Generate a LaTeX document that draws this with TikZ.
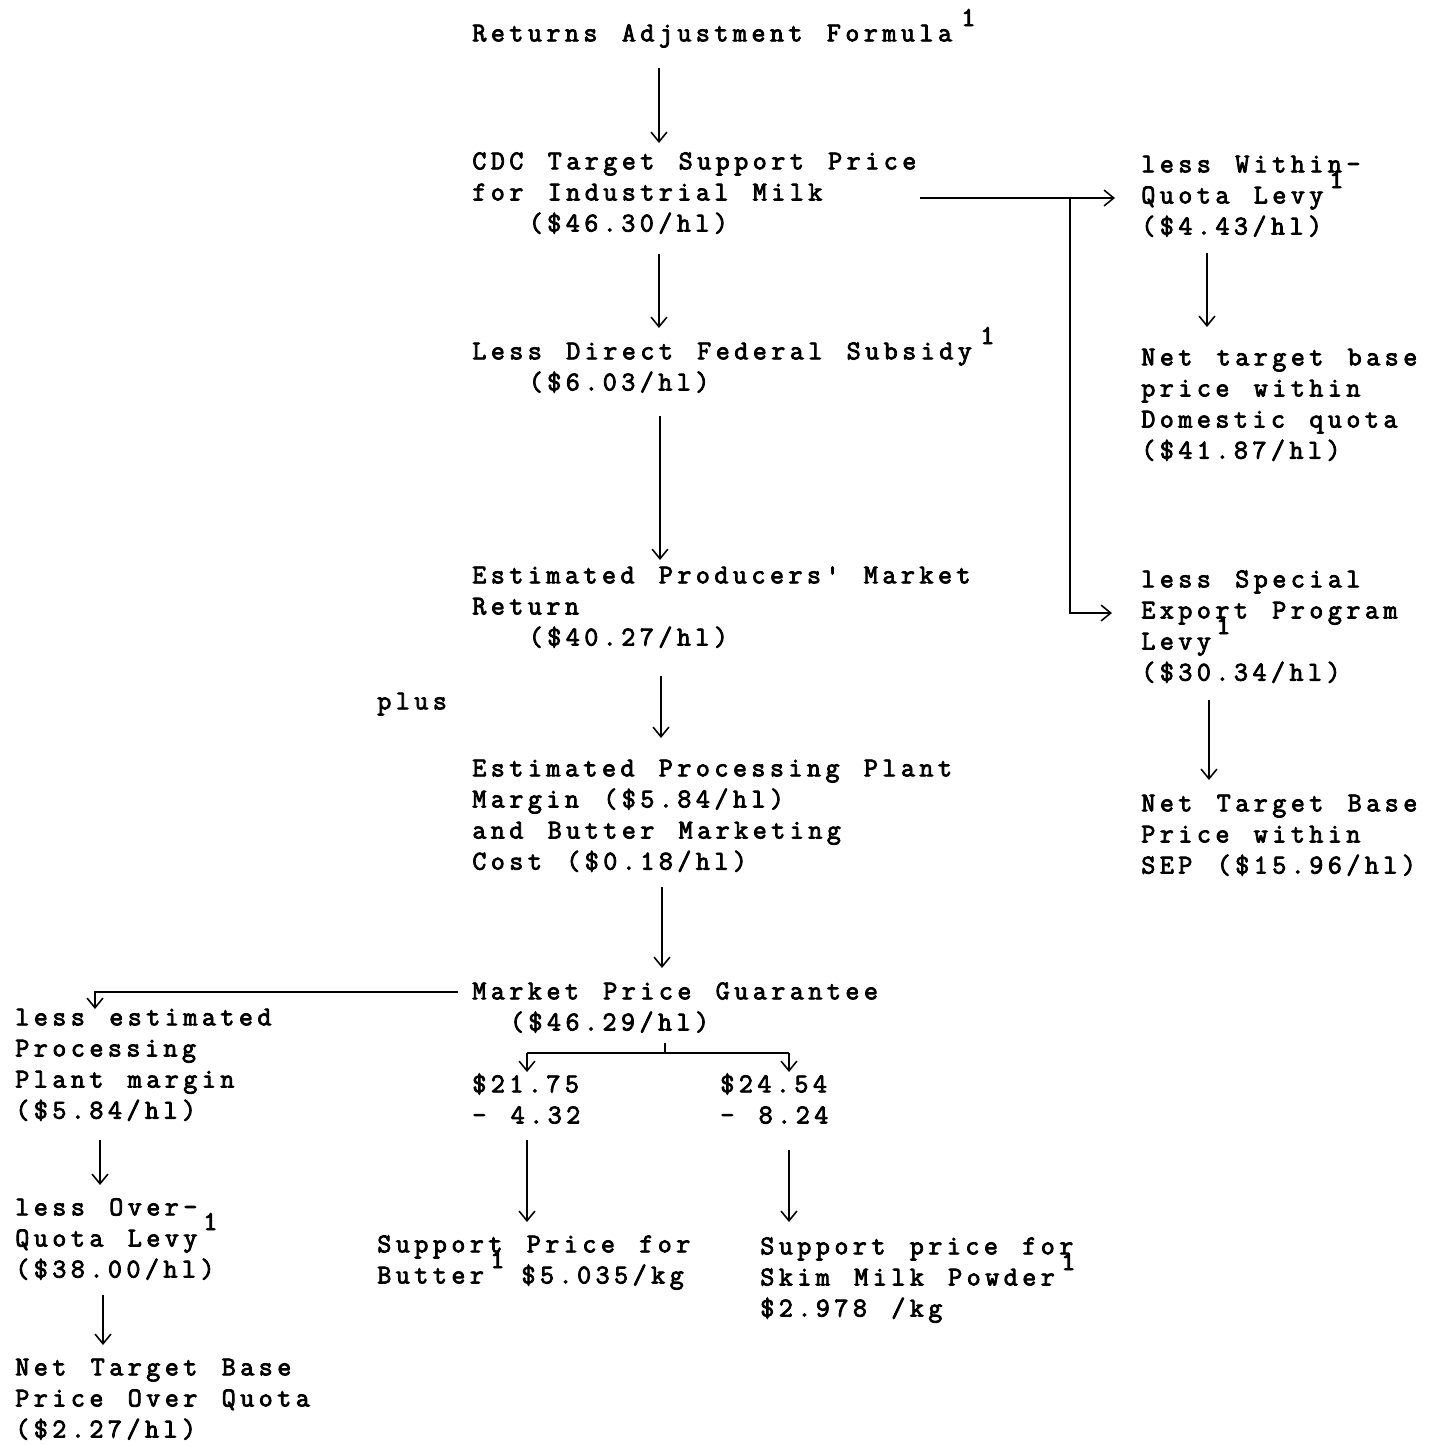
\documentclass[tikz,border=0pt]{standalone}
\usepackage{fontspec}
\usetikzlibrary{arrows.meta}
\newfontfamily\tw{Latin Modern Mono}[LetterSpace=16.5,WordSpace=1.315,FakeBold=3]
\newcommand\ts{\rule{0pt}{12.5pt}}
\newcommand\ind[1]{\hspace*{#1\dimexpr 10.7pt\relax}}
\tikzset{
  txt/.style={anchor=north west,inner sep=0pt,align=left,font={\tw\fontsize{15.5pt}{17.7pt}\selectfont}},
  supr/.style={anchor=base west,inner sep=0pt,font={\tw\fontsize{15.5pt}{17.7pt}\selectfont}},
  ln/.style={line width=0.9pt},
  arr/.style={ln,-{Straight Barb[length=5.5pt,width=9pt,line width=0.9pt]}}
}
\begin{document}
\begin{tikzpicture}[x=0.02cm,y=-0.02cm]
\fill[white] (0,0) rectangle (1431,1445);
\useasboundingbox (0,0) rectangle (1431,1445);
% ---- text blocks (north = baseline - 22)
\node[txt] (raf) at (472,19) {\ts Returns Adjustment Formula};
\node[supr] (s1) at (961,26) {1};
\node[txt] (cdc) at (472,147) {\ts CDC Target Support Price\\for Industrial Milk\\\ind{3}(\$46.30/hl)};
\node[txt] (wql) at (1141,150) {\ts less Within-\\Quota Levy\\(\$4.43/hl)};
\node[supr] (s2) at (1329,188) {1};
\node[txt] (ntb) at (1141,343) {\ts Net target base\\price within\\Domestic quota\\(\$41.87/hl)};
\node[txt] (sep) at (1141,565) {\ts less Special\\Export Program\\Levy\\(\$30.34/hl)};
\node[supr] (s3) at (1216,634) {1};
\node[txt] (sepn) at (1141,789) {\ts Net Target Base\\Price within\\SEP (\$15.96/hl)};
\node[txt] (ldfs) at (472,337) {\ts Less Direct Federal Subsidy\\\ind{3}(\$6.03/hl)};
\node[supr] (s4) at (980,344) {1};
\node[txt] (epmr) at (472,561) {\ts Estimated Producers' Market\\Return\\\ind{3}(\$40.27/hl)};
\node[txt] (plus) at (377,687) {\ts plus};
\node[txt] (eppm) at (472,754) {\ts Estimated Processing Plant\\Margin (\$5.84/hl)\\and Butter Marketing\\Cost (\$0.18/hl)};
\node[txt] (mpg) at (472,977) {\ts Market Price Guarantee\\\ind{2}(\$46.29/hl)};
\node[txt] (bv) at (472,1070) {\ts\$21.75\\- 4.32};
\node[txt] (sv) at (720,1070) {\ts\$24.54\\- 8.24};
\node[txt] (spb) at (377,1230) {\ts Support Price for\\Butter\ind{2}\$5.035/kg};
\node[supr] (s5) at (490,1268) {1};
\node[txt] (sps) at (760,1232) {\ts Support price for\\Skim Milk Powder\\\$2.978 /kg};
\node[supr] (s6) at (1061,1270) {1};
\node[txt] (lepm) at (15,1003) {\ts less estimated\\Processing\\Plant margin\\(\$5.84/hl)};
\node[txt] (loql) at (15,1193) {\ts less Over-\\Quota Levy\\(\$38.00/hl)};
\node[supr] (s7) at (203,1230) {1};
\node[txt] (ntbo) at (15,1353) {\ts Net Target Base\\Price Over Quota\\(\$2.27/hl)};
% ---- connector points
\coordinate (a1s) at (659,68);   \coordinate (a1e) at (659,143);
\coordinate (a2s) at (659,254);  \coordinate (a2e) at (659,328);
\coordinate (a3s) at (660,416);  \coordinate (a3e) at (660,560);
\coordinate (a4s) at (661,676);  \coordinate (a4e) at (661,738);
\coordinate (a5s) at (662,887);  \coordinate (a5e) at (662,968);
\coordinate (b1s) at (920,198);  \coordinate (b1e) at (1115,198);
\coordinate (b2s) at (1070,198); \coordinate (b2c) at (1070,613); \coordinate (b2e) at (1112,613);
\coordinate (a6s) at (1207,253); \coordinate (a6e) at (1207,327);
\coordinate (a7s) at (1209,700); \coordinate (a7e) at (1209,780);
\coordinate (l1s) at (458,992);  \coordinate (l1c) at (95,992); \coordinate (l1e) at (95,1009);
\coordinate (t1s) at (665,1043); \coordinate (t1e) at (665,1053);
\coordinate (hL) at (527,1053);  \coordinate (hR) at (789,1053);
\coordinate (hLe) at (527,1072); \coordinate (hRe) at (789,1072);
\coordinate (a8s) at (527,1140); \coordinate (a8e) at (527,1222);
\coordinate (a9s) at (789,1150); \coordinate (a9e) at (789,1222);
\coordinate (a10s) at (100,1140); \coordinate (a10e) at (100,1185);
\coordinate (a11s) at (103,1295); \coordinate (a11e) at (103,1345);
% ---- connectors
\draw[arr] (a1s) -- (a1e);
\draw[arr] (a2s) -- (a2e);
\draw[arr] (a3s) -- (a3e);
\draw[arr] (a4s) -- (a4e);
\draw[arr] (a5s) -- (a5e);
\draw[arr] (b1s) -- (b1e);
\draw[arr] (b2s) -- (b2c) -- (b2e);
\draw[arr] (a6s) -- (a6e);
\draw[arr] (a7s) -- (a7e);
\draw[arr] (l1s) -- (l1c) -- (l1e);
\draw[ln] (t1s) -- (t1e);
\draw[ln] (hL) -- (hR);
\draw[arr] (hL) -- (hLe);
\draw[arr] (hR) -- (hRe);
\draw[arr] (a8s) -- (a8e);
\draw[arr] (a9s) -- (a9e);
\draw[arr] (a10s) -- (a10e);
\draw[arr] (a11s) -- (a11e);
\end{tikzpicture}
\end{document}
